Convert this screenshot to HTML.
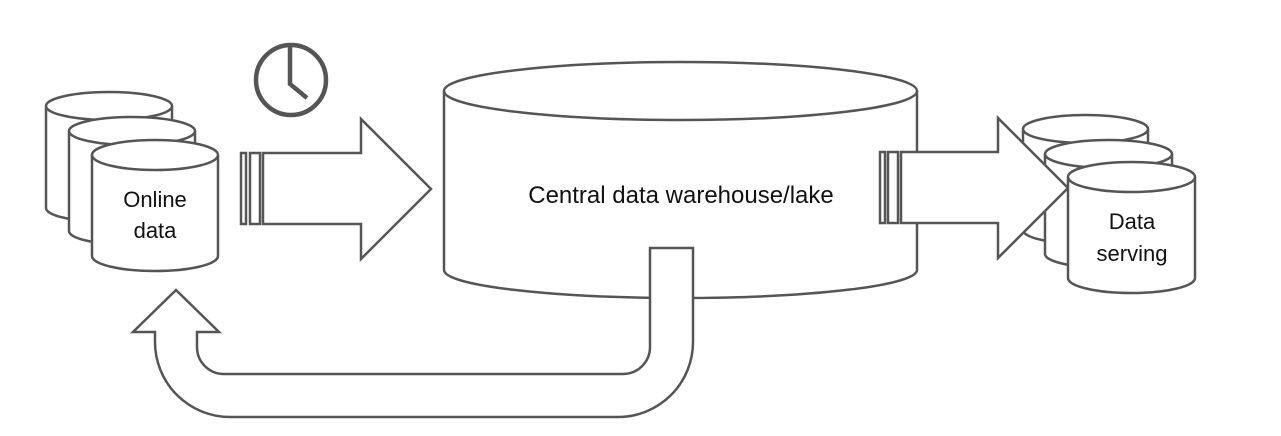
<!DOCTYPE html>
<html><head><meta charset="utf-8"><style>
html,body{margin:0;padding:0;background:#fff;}
svg{display:block;}
text{font-family:"Liberation Sans",Arial,sans-serif;fill:#111;}
</style></head><body>
<svg width="1281" height="436" viewBox="0 0 1281 436" xmlns="http://www.w3.org/2000/svg">
<g fill="#fff" stroke="#555" stroke-width="2.5">
  <path d="M46 106 L46 208 A63 14 0 0 0 172 208 L172 106 A63 14 0 0 0 46 106 Z"/>
  <path d="M46 106 A63 14 0 0 0 172 106"/>
  <path d="M69 131 L69 231 A63 14 0 0 0 195 231 L195 131 A63 14 0 0 0 69 131 Z"/>
  <path d="M69 131 A63 14 0 0 0 195 131"/>
  <path d="M92 155 L92 256 A63 15 0 0 0 218 256 L218 155 A63 15 0 0 0 92 155 Z"/>
  <path d="M92 155 A63 15 0 0 0 218 155"/>
  <rect x="241" y="153" width="5" height="71"/>
  <rect x="250" y="153" width="10" height="71"/>
  <path d="M263 153 L361 153 L361 119 L431 189 L361 259 L361 224 L263 224 Z"/>
  <path d="M444 91 L444 270 A236.5 28 0 0 0 917 270 L917 91 A236.5 29 0 0 0 444 91 Z"/>
  <path d="M444 91 A236.5 29 0 0 0 917 91"/>
  <path d="M650 248 L693 248 L693 342 A75 75 0 0 1 618 417 L230 417 A75 75 0 0 1 155 342 L155 332 L133 332 L176 290 L219 332 L197 332 L197 347 A27 27 0 0 0 224 374 L623 374 A27 27 0 0 0 650 347 Z"/>
  <path d="M1023 129 L1023 230 A62.5 14 0 0 0 1148 230 L1148 129 A62.5 14 0 0 0 1023 129 Z"/>
  <path d="M1023 129 A62.5 14 0 0 0 1148 129"/>
  <path d="M1045 154 L1045 254 A63.5 14 0 0 0 1172 254 L1172 154 A63.5 14 0 0 0 1045 154 Z"/>
  <path d="M1045 154 A63.5 14 0 0 0 1172 154"/>
  <rect x="880" y="152" width="5" height="71"/>
  <rect x="888" y="152" width="10" height="71"/>
  <path d="M901 152 L998 152 L998 118 L1068 188 L998 258 L998 223 L901 223 Z"/>
  <path d="M1068 177 L1068 278 A63.5 15 0 0 0 1195 278 L1195 177 A63.5 15 0 0 0 1068 177 Z"/>
  <path d="M1068 177 A63.5 15 0 0 0 1195 177"/>
</g>
<g fill="none" stroke="#555" stroke-width="4.5">
  <circle cx="291" cy="80" r="35"/>
  <path d="M290 46 L290 84 L307 98"/>
</g>
<text x="155" y="207" font-size="22" text-anchor="middle">Online</text>
<text x="155" y="238" font-size="22" text-anchor="middle">data</text>
<text x="681" y="203" font-size="24" text-anchor="middle">Central data warehouse/lake</text>
<text x="1132" y="229" font-size="22" text-anchor="middle">Data</text>
<text x="1132" y="261" font-size="22" text-anchor="middle">serving</text>
</svg>
</body></html>
